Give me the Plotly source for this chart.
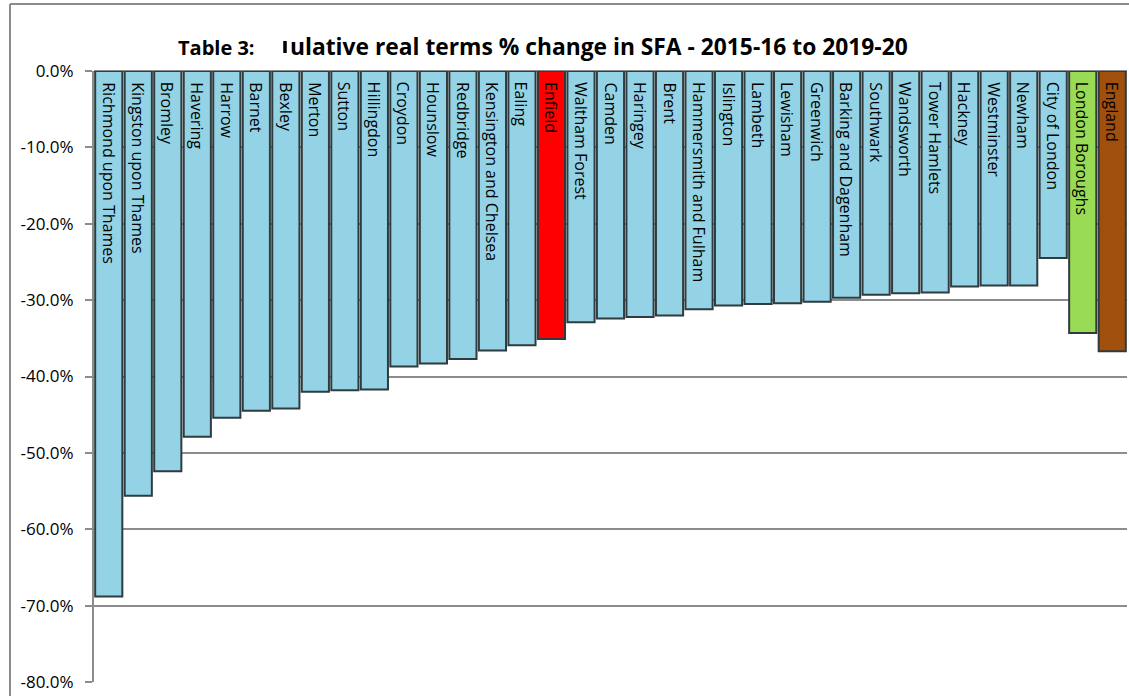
import plotly.graph_objects as go

categories = [
    "Richmond upon Thames", "Kingston upon Thames", "Bromley", "Havering", "Harrow",
    "Barnet", "Bexley", "Merton", "Sutton", "Hillingdon", "Croydon", "Hounslow",
    "Redbridge", "Kensington and Chelsea", "Ealing", "Enfield", "Waltham Forest",
    "Camden", "Haringey", "Brent", "Hammersmith and Fulham", "Islington", "Lambeth",
    "Lewisham", "Greenwich", "Barking and Dagenham", "Southwark", "Wandsworth",
    "Tower Hamlets", "Hackney", "Westminster", "Newham", "City of London",
    "London Boroughs", "England",
]
values = [
    -68.8, -55.6, -52.4, -47.9, -45.4,
    -44.5, -44.2, -42.0, -41.8, -41.7, -38.7, -38.3,
    -37.7, -36.6, -35.9, -35.1, -32.9,
    -32.4, -32.2, -32.0, -31.2, -30.7, -30.5,
    -30.4, -30.2, -29.7, -29.3, -29.1,
    -29.0, -28.2, -28.1, -28.1, -24.5,
    -34.3, -36.7,
]
y_ticks = [0, -10, -20, -30, -40, -50, -60, -70, -80]
tick_labels = ["0.0%", "-10.0%", "-20.0%", "-30.0%", "-40.0%", "-50.0%", "-60.0%", "-70.0%", "-80.0%"]
title_prefix = "Table 3:"
# the reference title is cut off on the left by the "Table 3:" box
title_visible = "ulative real terms % change in SFA - 2015-16 to 2019-20"

highlight = {"Enfield": "#FF0000", "London Boroughs": "#99DB55", "England": "#A14F0D"}
base_color = "#93D3E5"
colors = [highlight.get(c, base_color) for c in categories]

W, H = 1129, 696
L, R, T, B = 94, 2, 71, 14
pw, ph = W - L - R, H - T - B

def px_x(px):
    return (px - L) / pw

def px_y(py):
    return (H - B - py) / ph

fig = go.Figure()
fig.add_trace(go.Bar(
    x=categories, y=values,
    marker=dict(color=colors, line=dict(color="#2F3B3E", width=2)),
    hoverinfo="x+y",
))

annotations = []
for c in categories:
    annotations.append(dict(
        x=c, y=0, xref="x", yref="y", text=c, showarrow=False,
        textangle=90, xanchor="center", yanchor="top", yshift=-9,
        font=dict(family="Open Sans", size=16, color="#000000"),
    ))
annotations.append(dict(
    x=px_x(288), y=px_y(46), xref="paper", yref="paper", text=f"<b>{title_visible}</b>",
    showarrow=False, xanchor="left", yanchor="middle",
    font=dict(family="Open Sans", size=22.8, color="#000000"),
))
annotations.append(dict(
    x=px_x(176), y=px_y(47), xref="paper", yref="paper", text=f"<b>{title_prefix}</b>",
    showarrow=False, xanchor="left", yanchor="middle",
    font=dict(family="Open Sans", size=20, color="#000000"),
))

shapes = [
    dict(type="line", xref="paper", yref="paper", x0=px_x(10), x1=px_x(10),
         y0=px_y(4), y1=px_y(700), line=dict(color="#8C8C8C", width=2)),
    dict(type="line", xref="paper", yref="paper", x0=px_x(10), x1=px_x(1135),
         y0=px_y(4), y1=px_y(4), line=dict(color="#8C8C8C", width=2)),
    # last stroke of the clipped "m"
    dict(type="line", xref="paper", yref="paper", x0=px_x(285), x1=px_x(285),
         y0=px_y(41), y1=px_y(53), line=dict(color="#000000", width=3.5)),
]

fig.update_layout(
    width=W, height=H,
    margin=dict(l=L, r=R, t=T, b=B, pad=0),
    paper_bgcolor="#FFFFFF", plot_bgcolor="#FFFFFF",
    bargap=0.08, showlegend=False,
    annotations=annotations, shapes=shapes,
    xaxis=dict(showticklabels=False, ticks="", showgrid=False, showline=False,
               zeroline=False, range=[-0.5, len(categories) - 0.5]),
    yaxis=dict(range=[-80, 0], tickvals=y_ticks, ticktext=tick_labels,
               showgrid=True, gridcolor="#8C8C8C", gridwidth=2,
               zeroline=True, zerolinecolor="#8C8C8C", zerolinewidth=2,
               showline=True, linecolor="#8C8C8C", linewidth=2,
               ticks="outside", ticklen=7, tickcolor="#8C8C8C", tickwidth=2,
               ticklabelstandoff=8,
               tickfont=dict(family="Open Sans", size=17, color="#000000")),
    font=dict(family="Open Sans"),
)

fig.write_html("out.html")
